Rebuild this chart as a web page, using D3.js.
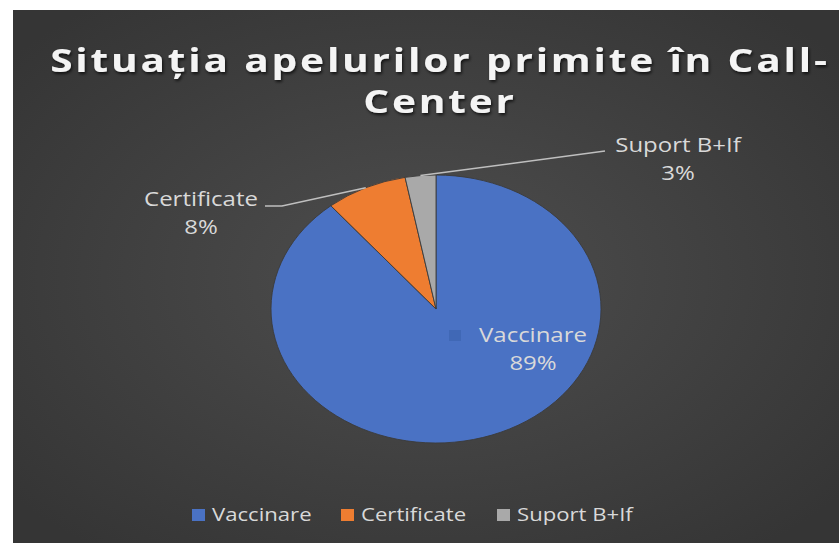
<!DOCTYPE html>
<html>
<head>
<meta charset="utf-8">
<script src="https://cdn.jsdelivr.net/npm/d3@7"></script>
<style>
  html, body { margin: 0; padding: 0; background: #fff; }
  svg { display: block; }
</style>
</head>
<body>
<div id="chart"></div>
<script>
// chart data
var title = ["Situația apelurilor primite în Call-", "Center"];
var categories = ["Vaccinare", "Certificate", "Suport B+If"];
var values = [89, 8, 3];
var colors = ["#4a72c4", "#ee7d31", "#a9a9a9"];

var width = 839;
var height = 543;
var stretch = 1.23; // the screenshot is stretched horizontally

var svg = d3.select("#chart")
  .append("svg")
  .attr("width", width)
  .attr("height", height);

var defs = svg.append("defs");
var bg = defs.append("radialGradient")
  .attr("id", "bg")
  .attr("cx", "50%").attr("cy", "50%").attr("r", "65%");
bg.append("stop").attr("offset", "0%").attr("stop-color", "#4e4e4e");
bg.append("stop").attr("offset", "100%").attr("stop-color", "#353535");

var shadow = defs.append("filter").attr("id", "shadow")
  .attr("x", "-5%").attr("y", "-20%").attr("width", "110%").attr("height", "140%");
shadow.append("feDropShadow")
  .attr("dx", 1).attr("dy", 2).attr("stdDeviation", 1.5)
  .attr("flood-color", "#000").attr("flood-opacity", 0.7);

/* background (white strip top / left like the screenshot) */
svg.append("rect")
  .attr("x", 13).attr("y", 10)
  .attr("width", width - 13).attr("height", height - 10)
  .attr("fill", "url(#bg)");

// text drawn at (x, y) and stretched like the picture
function stretchedText(sel, x, y, str) {
  return sel.append("text")
    .attr("transform", `translate(${x}, ${y}) scale(${stretch}, 1)`)
    .text(str);
}

/* Title */
var titleY = [72, 113];
title.forEach(function(line, i) {
  stretchedText(svg, 440, titleY[i], line)
    .attr("text-anchor", "middle")
    .attr("fill", "#f4f4f4")
    .attr("filter", "url(#shadow)")
    .style("font-family", "'Open Sans', sans-serif")
    .style("font-weight", "bold")
    .style("font-size", "33px")
    .style("letter-spacing", "2.3px");
});

/* Pie */
var cx = 436, cy = 309, rx = 165, ry = 134;

var pie = d3.pie().sort(null).value(d => d);
var arcs = pie(values);

var arc = d3.arc().innerRadius(0).outerRadius(ry);

var pieG = svg.append("g")
  .attr("transform", `translate(${cx}, ${cy}) scale(${rx / ry}, 1)`);

pieG.selectAll("path")
  .data(arcs)
  .enter()
  .append("path")
  .attr("d", arc)
  .attr("fill", (d, i) => colors[i])
  .attr("stroke", "#3a3a3a")
  .attr("stroke-width", 0.8);

// point on the ellipse for a given angle
function edge(a) {
  return [cx + Math.sin(a) * rx, cy - Math.cos(a) * ry];
}

var labelFont = "'Open Sans', sans-serif";
var labelColor = "#d9d9d9";

/* Data labels */
var labelPos = [
  {x: 533, y: 342, key: [449, 330]},
  {x: 201, y: 206, line: [265, 206, 282, 206]},
  {x: 678, y: 152, line: [605, 151, 605, 151]}
];

var labels = svg.append("g").attr("class", "labels");

arcs.forEach(function(d, i) {
  var p = labelPos[i];
  var pct = Math.round(d.value / d3.sum(values) * 100) + "%";

  if (p.line) {
    var mid = (d.startAngle + d.endAngle) / 2;
    labels.append("polyline")
      .attr("points", [[p.line[0], p.line[1]], [p.line[2], p.line[3]], edge(mid)].join(" "))
      .attr("fill", "none")
      .attr("stroke", "#bfbfbf")
      .attr("stroke-width", 1.5);
  }

  if (p.key) {
    labels.append("rect")
      .attr("x", p.key[0]).attr("y", p.key[1])
      .attr("width", 12).attr("height", 11)
      .attr("fill", "#4068b6");
  }

  [categories[i], pct].forEach(function(str, j) {
    stretchedText(labels, p.x, p.y + j * 28, str)
      .attr("text-anchor", "middle")
      .attr("fill", labelColor)
      .style("font-family", labelFont)
      .style("font-size", "19.5px");
  });
});

/* Legend */
var legendX = [192, 341, 497];
var legend = svg.append("g").attr("class", "legend");

var items = legend.selectAll("g")
  .data(categories)
  .enter()
  .append("g")
  .attr("transform", (d, i) => `translate(${legendX[i]}, 521)`);

items.append("rect")
  .attr("x", 0).attr("y", -12)
  .attr("width", 13).attr("height", 12)
  .attr("fill", (d, i) => colors[i]);

items.each(function(d) {
  stretchedText(d3.select(this), 20, 0, d)
    .attr("fill", labelColor)
    .style("font-family", labelFont)
    .style("font-size", "18px");
});
</script>
</body>
</html>
